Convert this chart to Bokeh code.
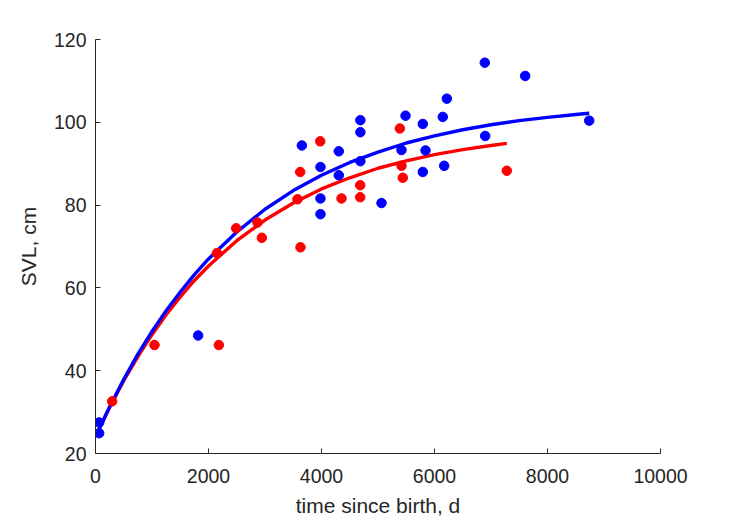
from bokeh.plotting import figure
from bokeh.models import Range1d, FixedTicker
from bokeh.embed import file_html
from bokeh.resources import INLINE

# Observed data (time since birth in days, SVL in cm)
blue_t = [65, 65, 1817, 3652, 3982, 3982, 3982, 4306, 4306, 4688, 4688, 4688, 5062,
          5416, 5487, 5793, 5793, 5841, 6147, 6172, 6218, 6890, 6897, 7605, 8738]
blue_svl = [27.5, 24.9, 48.5, 94.4, 89.2, 81.6, 77.8, 93.0, 87.2, 100.5, 97.6, 90.6, 80.5,
            93.3, 101.6, 99.6, 88.0, 93.2, 101.3, 89.5, 105.7, 114.4, 96.7, 111.2, 100.4]

red_t = [295, 1044, 2150, 2183, 2490, 2867, 2944, 3575, 3623, 3628, 3977, 4354,
         4685, 4685, 5386, 5416, 5439, 7280]
red_svl = [32.6, 46.2, 68.4, 46.2, 74.4, 75.8, 72.1, 81.4, 88.0, 69.8, 95.4, 81.6,
           84.8, 81.9, 98.5, 89.5, 86.6, 88.3]

# Fitted growth curves
blue_curve_t = [60, 250, 500, 750, 1000, 1250, 1500, 1750, 2000, 2500, 3000, 3500, 4000,
                4500, 5000, 5500, 6000, 6500, 7000, 7500, 8000, 8500, 8738]
blue_curve_svl = [25.8, 31.3, 37.9, 44.0, 49.5, 54.5, 59.0, 63.2, 67.0, 73.5, 79.0, 83.5, 87.2,
                  90.3, 92.8, 95.0, 96.7, 98.2, 99.4, 100.4, 101.2, 101.9, 102.2]

red_curve_t = [60, 250, 500, 750, 1000, 1250, 1500, 1750, 2000, 2500, 3000, 3500, 4000,
               4500, 5000, 5500, 6000, 6500, 7000, 7280]
red_curve_svl = [25.8, 31.1, 37.6, 43.4, 48.7, 53.5, 57.8, 61.8, 65.3, 71.4, 76.4, 80.5, 83.9,
                 86.6, 88.9, 90.7, 92.2, 93.4, 94.4, 94.9]

x_ticks = [0, 2000, 4000, 6000, 8000, 10000]
y_ticks = [20, 40, 60, 80, 100, 120]

p = figure(width=729, height=521, output_backend="svg", toolbar_location=None,
           x_range=Range1d(0, 10000), y_range=Range1d(20, 120),
           min_border_left=95, min_border_right=69, min_border_top=39, min_border_bottom=68)

p.outline_line_color = None
p.xgrid.visible = False
p.ygrid.visible = False
p.background_fill_color = "white"
p.border_fill_color = "white"

p.line(red_curve_t, red_curve_svl, line_color="#FF0000", line_width=3.4)
p.line(blue_curve_t, blue_curve_svl, line_color="#0000FF", line_width=3.4)
p.scatter(blue_t, blue_svl, size=9.5, fill_color="#0000FF", line_color="#0000FF")
p.scatter(red_t, red_svl, size=9.5, fill_color="#FF0000", line_color="#FF0000")

p.xaxis.ticker = FixedTicker(ticks=x_ticks)
p.yaxis.ticker = FixedTicker(ticks=y_ticks)

for ax in (p.xaxis, p.yaxis):
    ax.axis_line_color = "#262626"
    ax.axis_line_width = 1
    ax.major_tick_line_color = "#262626"
    ax.major_tick_in = 5
    ax.major_tick_out = 0
    ax.minor_tick_line_color = None
    ax.major_label_text_font = "Liberation Sans"
    ax.major_label_text_font_size = "19.5px"
    ax.major_label_text_color = "#262626"
    ax.axis_label_text_font = "Liberation Sans"
    ax.axis_label_text_font_size = "21px"
    ax.axis_label_text_font_style = "normal"
    ax.axis_label_text_color = "#262626"

p.xaxis.axis_label = "time since birth, d"
p.yaxis.axis_label = "SVL, cm"
p.xaxis.major_label_standoff = 15
p.yaxis.major_label_standoff = 9
p.xaxis.axis_label_standoff = 8
p.yaxis.axis_label_standoff = 11

open("out.html", "w").write(file_html(p, INLINE))
